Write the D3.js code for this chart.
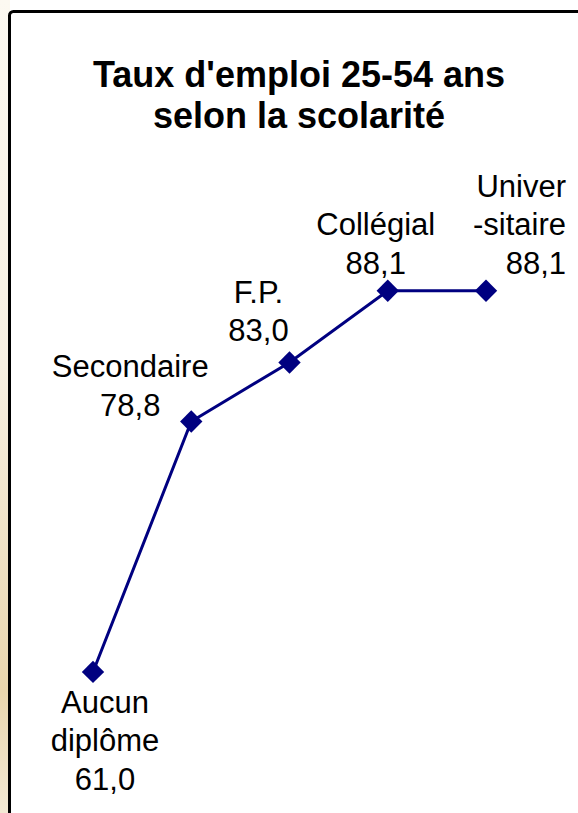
<!DOCTYPE html>
<html>
<head>
<meta charset="utf-8">
<script src="https://cdn.jsdelivr.net/npm/d3@7"></script>
<style>
  body { margin: 0; background: #fff; }
  text { font-family: "Liberation Sans", Arial, sans-serif; }
</style>
</head>
<body>
<div id="chart"></div>
<script>
var width = 578, height = 813;

// data
var categories = ["Aucun diplôme", "Secondaire", "F.P.", "Collégial", "Universitaire"];
var labelLines = [["Aucun", "diplôme"], ["Secondaire"], ["F.P."], ["Collégial"], ["Univer", "-sitaire"]];
var values = [61.0, 78.8, 83.0, 88.1, 88.1];
var titleLines = ["Taux d'emploi 25-54 ans", "selon la scolarité"];

var fmt = function(v){ return d3.format(".1f")(v).replace(".", ","); };

var svg = d3.select("#chart")
    .append("svg")
    .attr("width", width)
    .attr("height", height);

// cream strip on the left, outside the frame
var grad = svg.append("defs").append("linearGradient")
    .attr("id", "strip")
    .attr("x1", 0).attr("y1", 0).attr("x2", 0).attr("y2", 1);
grad.append("stop").attr("offset", "0%").attr("stop-color", "#fcf9f1");
grad.append("stop").attr("offset", "45%").attr("stop-color", "#f7f0e2");
grad.append("stop").attr("offset", "85%").attr("stop-color", "#e9d6ae");
grad.append("stop").attr("offset", "100%").attr("stop-color", "#f3e9d4");

svg.append("rect")
    .attr("x", 0).attr("y", 0)
    .attr("width", 10).attr("height", height)
    .style("fill", "url(#strip)");

svg.append("rect")
    .attr("x", 9.5).attr("y", 11.5)
    .attr("width", 620).attr("height", 850)
    .attr("rx", 4).attr("ry", 4)
    .style("fill", "#fff")
    .style("stroke", "#000")
    .style("stroke-width", 3);

// title
svg.append("text")
    .attr("x", 299)
    .attr("y", 87)
    .attr("text-anchor", "middle")
    .style("font-size", "36px")
    .style("font-weight", "bold")
    .selectAll("tspan")
    .data(titleLines)
    .enter().append("tspan")
    .attr("x", 299)
    .attr("dy", function(d, i){ return i == 0 ? 0 : 41; })
    .text(function(d){ return d; });

var xScale = d3.scalePoint()
    .domain(categories)
    .range([93, 486]);
var yScale = d3.scaleLinear()
    .domain([60, 90])
    .range([686, 264]);

var line = d3.line()
    .x(function(d, i){ return xScale(categories[i]); })
    .y(function(d){ return yScale(d); });

svg.append("path")
    .datum(values)
    .attr("d", line)
    .style("fill", "none")
    .style("stroke", "#000080")
    .style("stroke-width", 3);

svg.selectAll(".marker")
    .data(values)
    .enter().append("path")
    .attr("class", "marker")
    .attr("d", d3.symbol().type(d3.symbolSquare).size(250))
    .attr("transform", function(d, i){
        return "translate(" + xScale(categories[i]) + "," + yScale(d) + ") rotate(45)";
    })
    .style("fill", "#000080");

// label placement relative to each point
var lineH = 38.5;
var place = [
    { dx: 12, dy: 41, anchor: "middle", below: true },
    { dx: -61, dy: -6, anchor: "middle" },
    { dx: -31, dy: -21, anchor: "middle" },
    { dx: -12, dy: -17, anchor: "middle" },
    { dx: 80, dy: -17, anchor: "end" }
];

var labels = svg.selectAll(".lbl")
    .data(values)
    .enter().append("text")
    .attr("class", "lbl")
    .attr("text-anchor", function(d, i){ return place[i].anchor; })
    .style("font-size", "31px")
    .style("fill", "#000");

labels.each(function(d, i){
    var lines = labelLines[i].concat([fmt(d)]);
    var p = place[i];
    var x = xScale(categories[i]) + p.dx;
    var y0 = p.below ? yScale(d) + p.dy : yScale(d) + p.dy - (lines.length - 1) * lineH;
    d3.select(this).selectAll("tspan")
        .data(lines)
        .enter().append("tspan")
        .attr("x", x)
        .attr("y", function(t, j){ return y0 + j * lineH; })
        .text(function(t){ return t; });
});
</script>
</body>
</html>
